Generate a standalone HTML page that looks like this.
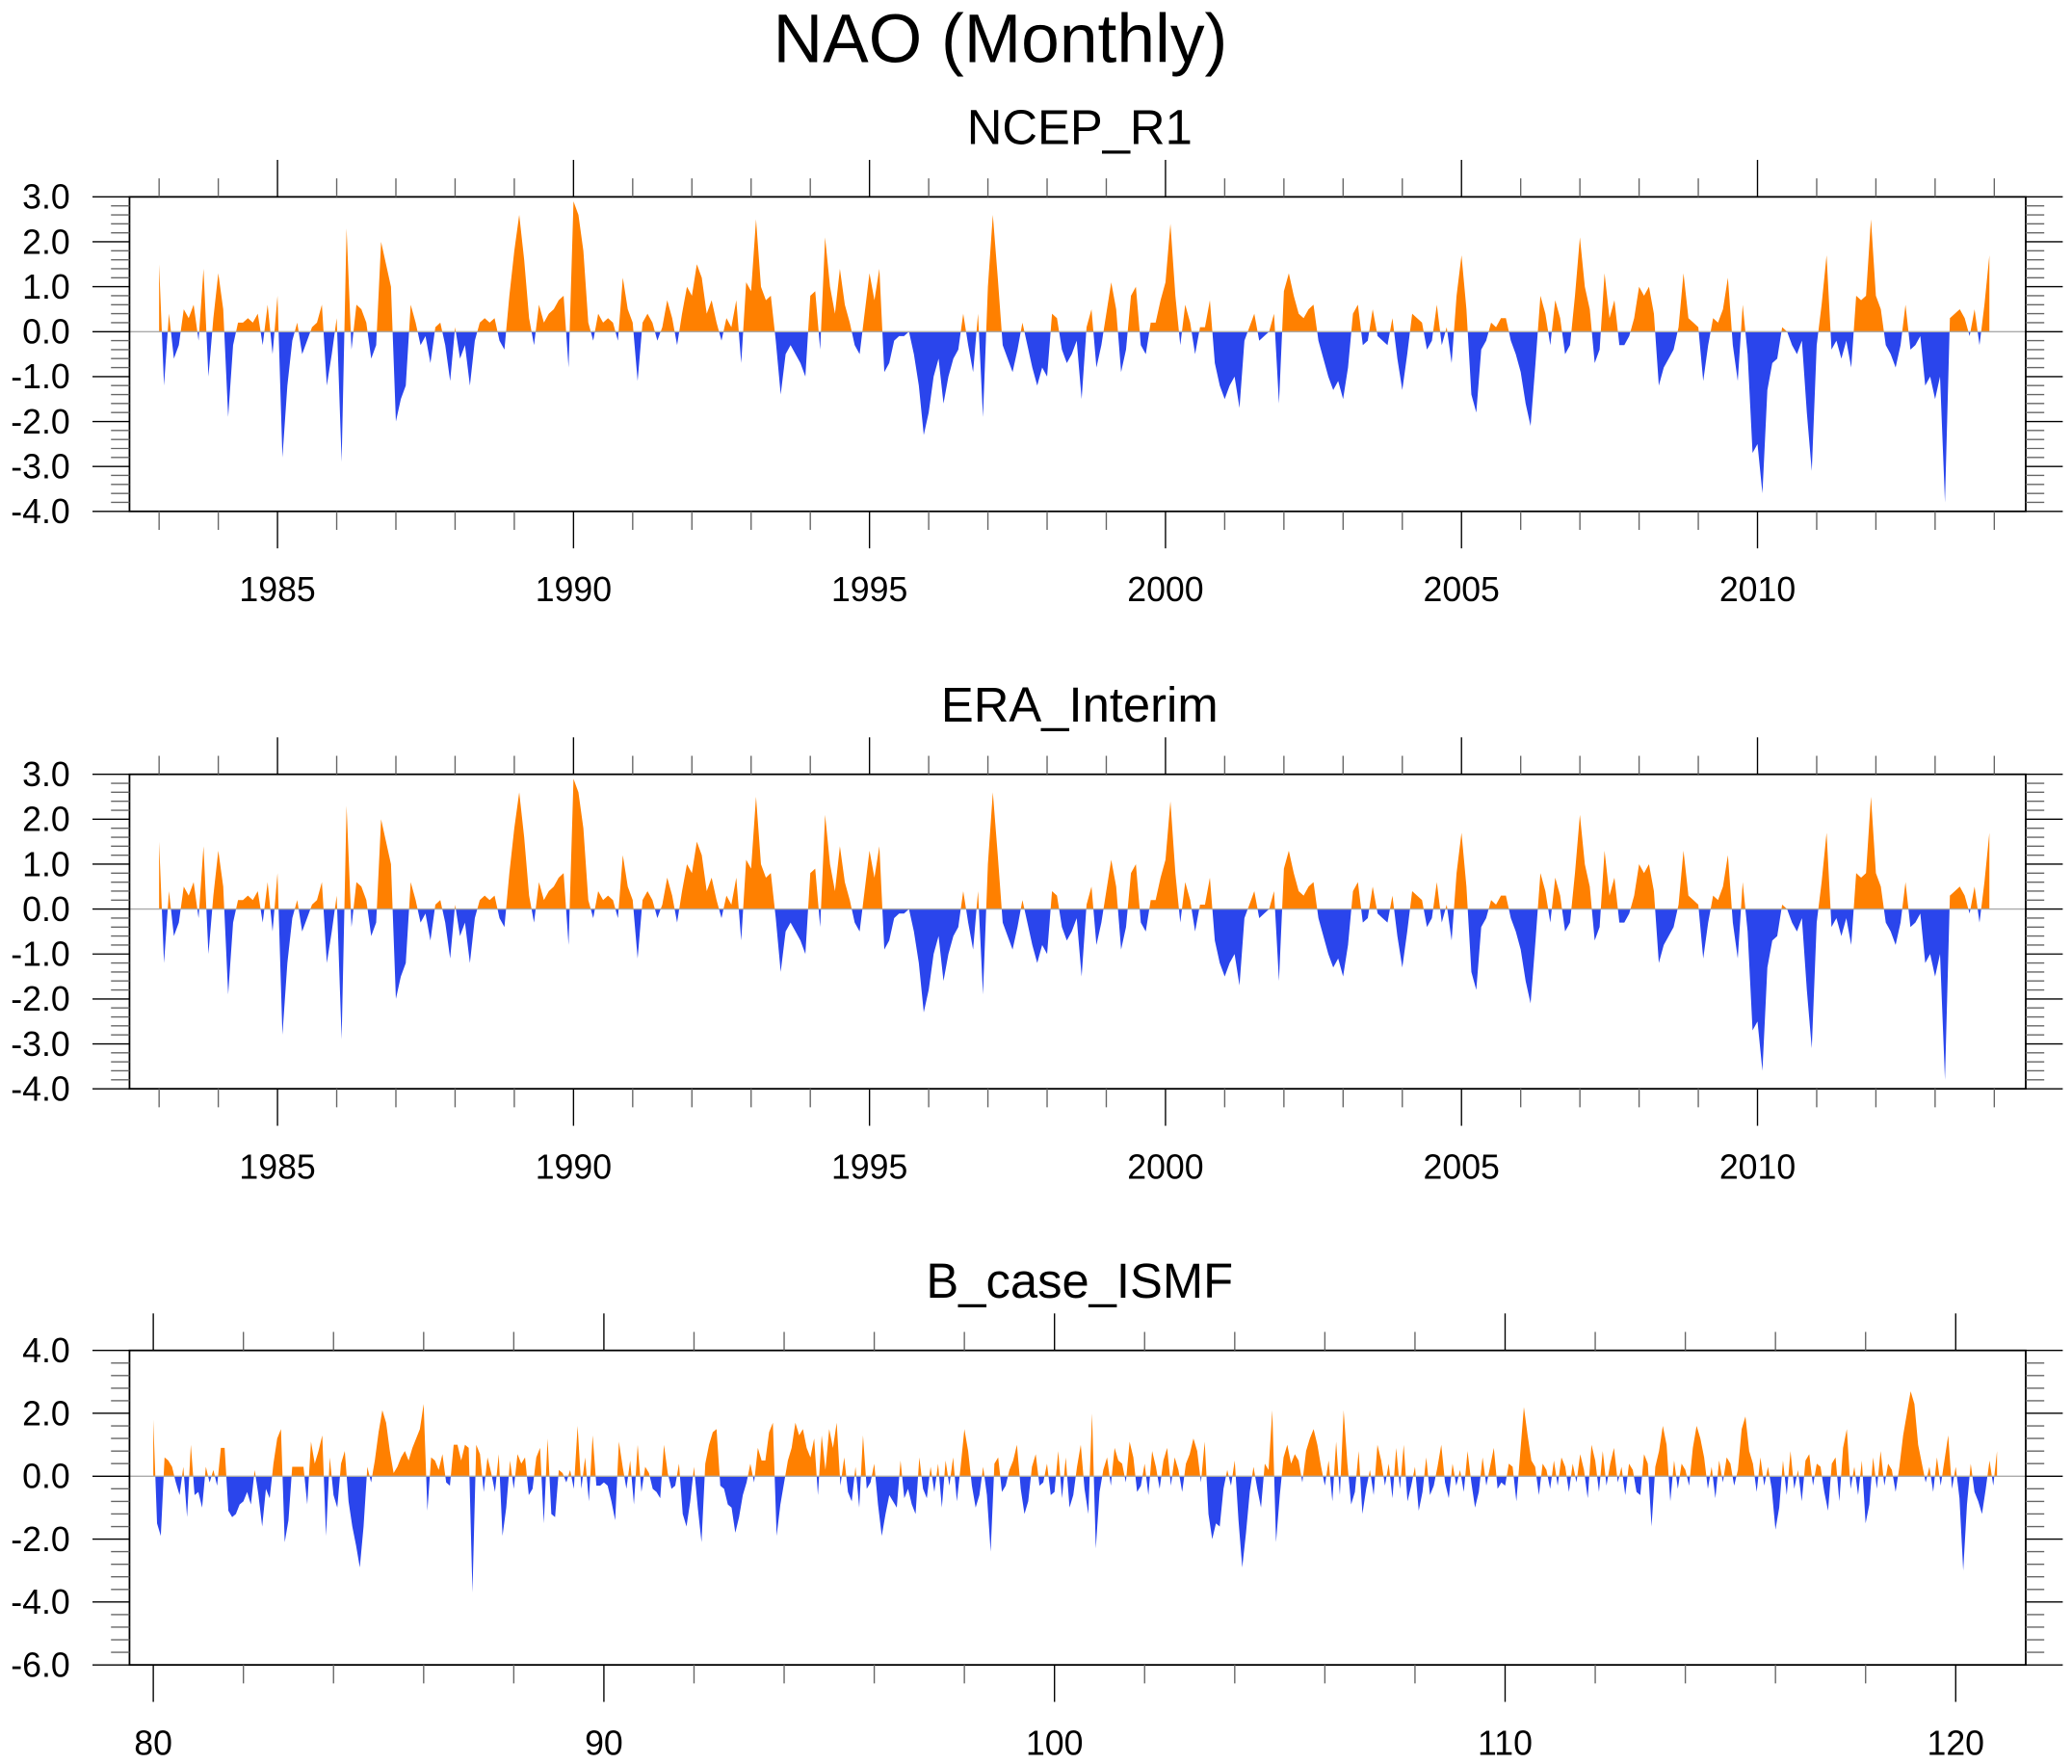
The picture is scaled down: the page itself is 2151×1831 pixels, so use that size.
<!DOCTYPE html>
<html><head><meta charset="utf-8"><style>
html,body{margin:0;padding:0;background:#fff;}
svg{display:block;}
text{font-family:"Liberation Sans",sans-serif;fill:#000;}
</style></head><body>
<svg id="chart" width="2151" height="1831" viewBox="0 0 1568 1335" preserveAspectRatio="none" xmlns="http://www.w3.org/2000/svg">
<text x="757" y="47" font-size="52" text-anchor="middle">NAO (Monthly)</text>
</svg>
<script>
// ---- data ----
const ncepValues = [
1.5,-1.2,0.4,-0.6,-0.3,0.5,0.3,0.6,-0.2,1.4,-1.0,0.3,
1.3,0.5,-1.9,-0.3,0.2,0.2,0.3,0.2,0.4,-0.3,0.6,-0.5,
0.8,-2.8,-1.2,-0.2,0.2,-0.5,-0.2,0.1,0.2,0.6,-1.2,-0.5,
0.3,-2.9,2.3,-0.4,0.6,0.5,0.2,-0.6,-0.3,2.0,1.5,1.0,
-2.0,-1.5,-1.2,0.6,0.2,-0.3,-0.1,-0.7,0.1,0.2,-0.3,-1.1,
0.1,-0.6,-0.3,-1.2,-0.2,0.2,0.3,0.2,0.3,-0.2,-0.4,0.8,
1.8,2.6,1.6,0.3,-0.3,0.6,0.2,0.4,0.5,0.7,0.8,-0.8,
2.9,2.6,1.8,0.2,-0.2,0.4,0.2,0.3,0.2,-0.2,1.2,0.5,
0.2,-1.1,0.2,0.4,0.2,-0.2,0.1,0.7,0.3,-0.3,0.4,1.0,
0.8,1.5,1.2,0.4,0.7,0.2,-0.2,0.3,0.1,0.7,-0.7,1.1,
0.9,2.5,1.0,0.7,0.8,-0.2,-1.4,-0.5,-0.3,-0.5,-0.7,-1.0,
0.8,0.9,-0.4,2.1,1.0,0.4,1.4,0.6,0.2,-0.3,-0.5,0.4,
1.3,0.7,1.4,-0.9,-0.7,-0.2,-0.1,-0.1,0.0,-0.5,-1.2,-2.3,
-1.8,-1.0,-0.6,-1.6,-1.0,-0.6,-0.4,0.4,-0.3,-0.9,0.4,-1.9,
1.0,2.6,1.2,-0.3,-0.6,-0.9,-0.4,0.2,-0.3,-0.8,-1.2,-0.8,
-1.0,0.4,0.3,-0.4,-0.7,-0.5,-0.2,-1.5,0.1,0.5,-0.8,-0.3,
0.4,1.1,0.5,-0.9,-0.4,0.8,1.0,-0.3,-0.5,0.2,0.2,0.7,
1.1,2.4,0.8,-0.3,0.6,0.2,-0.5,0.1,0.1,0.7,-0.7,-1.2,
-1.5,-1.2,-1.0,-1.7,-0.2,0.1,0.4,-0.2,-0.1,0.0,0.4,-1.6,
0.9,1.3,0.8,0.4,0.3,0.5,0.6,-0.2,-0.6,-1.0,-1.3,-1.1,
-1.5,-0.8,0.4,0.6,-0.3,-0.2,0.5,-0.1,-0.2,-0.3,0.3,-0.6,
-1.3,-0.5,0.4,0.3,0.2,-0.4,-0.2,0.6,-0.3,0.1,-0.7,0.8,
1.7,0.5,-1.4,-1.8,-0.4,-0.2,0.2,0.1,0.3,0.3,-0.2,-0.5,
-0.9,-1.6,-2.1,-0.7,0.8,0.4,-0.3,0.7,0.3,-0.5,-0.3,0.8,
2.1,1.0,0.5,-0.7,-0.4,1.3,0.3,0.7,-0.3,-0.3,-0.1,0.3,
1.0,0.8,1.0,0.4,-1.2,-0.8,-0.6,-0.4,0.1,1.3,0.3,0.2,
0.1,-1.1,-0.3,0.3,0.2,0.5,1.2,-0.3,-1.1,0.6,-0.5,-2.7,
-2.5,-3.6,-1.3,-0.7,-0.6,0.1,0.0,-0.3,-0.5,-0.2,-1.8,-3.1,
-0.3,0.6,1.7,-0.4,-0.2,-0.6,-0.2,-0.8,0.8,0.7,0.8,2.5,
0.8,0.5,-0.3,-0.5,-0.8,-0.3,0.6,-0.4,-0.3,-0.1,-1.2,-1.0,
-1.5,-1.0,-3.8,0.3,0.4,0.5,0.3,-0.1,0.5,-0.3,0.6,1.7];
const eraValues = ncepValues.map(v => v); // ERA_Interim nearly identical to NCEP_R1
const bcaseValues = [
1.8,-1.5,-1.9,0.6,0.5,0.3,-0.2,-0.6,0.3,-1.3,1.0,-0.6,
-0.5,-1.0,0.3,-0.2,0.2,-0.3,0.9,0.9,-1.1,-1.3,-1.2,-0.9,
-0.8,-0.5,-0.9,0.2,-0.6,-1.6,-0.4,-0.7,0.4,1.2,1.5,-2.1,
-1.4,0.3,0.3,0.3,0.3,-0.9,1.1,0.4,0.8,1.3,-1.9,0.6,
-0.6,-1.0,0.4,0.8,-0.8,-1.6,-2.2,-2.9,-1.6,0.3,-0.2,0.5,
1.4,2.1,1.7,0.8,0.1,0.3,0.6,0.8,0.5,0.9,1.2,1.5,
2.3,-1.1,0.6,0.5,0.2,0.7,-0.2,-0.3,1.0,1.0,0.5,1.0,
0.9,-3.7,1.0,0.7,-0.5,0.6,0.1,-0.5,0.7,-1.9,-1.0,0.5,
-0.4,0.7,0.4,0.6,-0.6,-0.4,0.6,0.9,-1.5,1.2,-1.2,-1.3,
0.2,0.1,-0.2,0.2,-0.4,1.6,-0.4,0.6,-0.8,1.3,-0.3,-0.3,
-0.2,-0.3,-0.8,-1.4,1.1,0.3,-0.4,0.5,-0.9,1.0,-0.5,0.3,
0.1,-0.4,-0.5,-0.7,1.0,0.1,-0.4,-0.3,0.4,-1.2,-1.6,-0.8,
0.3,-1.0,-2.1,0.4,1.0,1.4,1.5,-0.3,-0.4,-0.9,-1.0,-1.8,
-1.3,-0.6,-0.2,0.4,-0.2,0.9,0.5,0.5,1.4,1.7,-1.9,-0.9,
-0.2,0.5,0.9,1.7,1.3,1.5,0.9,0.6,1.2,-0.6,1.3,0.2,
1.5,0.9,1.7,-0.3,0.6,-0.5,-0.8,0.3,-1.0,1.3,-0.4,-0.2,
0.4,-0.9,-1.9,-1.2,-0.6,-0.8,-1.0,0.5,-0.7,-0.4,-0.9,-1.2,
0.6,-0.4,-0.7,0.3,-0.5,0.4,-1.0,0.5,-0.3,0.6,-0.8,0.3,
1.5,0.8,-0.3,-1.0,-0.6,0.3,-0.6,-2.4,0.4,0.6,-0.5,-0.3,
0.2,0.5,1.0,-0.4,-1.2,-0.8,0.3,0.7,-0.3,-0.2,0.4,-0.6,
-0.5,0.8,-0.7,0.6,-1.0,-0.6,0.3,1.0,-0.4,-1.2,2.0,-2.3,
-0.5,0.2,0.6,-0.3,0.9,0.5,0.4,-0.2,1.1,0.6,-0.5,-0.3,
0.4,-0.6,0.8,0.3,-0.4,0.5,0.9,-0.3,0.6,0.2,-0.5,0.4,
0.7,1.2,0.8,-0.2,1.1,-1.2,-2.0,-1.5,-1.6,-0.4,0.2,-0.3,
0.5,-1.4,-2.9,-1.8,-0.5,0.3,-0.4,-1.0,0.4,0.2,2.1,-2.1,
-0.6,0.6,1.0,0.4,0.7,0.5,-0.2,0.8,1.2,1.5,1.0,0.3,
-0.3,0.5,-0.8,1.1,-0.6,2.1,0.4,-0.9,-0.5,0.8,-1.2,-0.4,
0.2,-0.6,1.0,0.5,-0.3,0.4,-0.7,0.9,-0.4,1.0,-0.8,-0.3,
0.3,-1.1,-0.5,0.6,-0.6,-0.3,0.3,1.0,-0.2,-0.7,0.4,-0.3,
0.2,-0.5,0.8,-0.2,-1.0,-0.5,0.6,-0.3,0.3,0.9,-0.4,-0.2,
-0.3,0.4,0.3,-0.8,0.7,2.2,1.3,0.5,0.3,-0.6,0.4,0.2,
-0.4,0.5,-0.3,0.6,0.3,-0.5,0.4,-0.2,0.7,0.2,-0.7,1.0,
0.5,-0.5,0.8,-0.3,0.4,0.9,-0.2,0.3,-0.6,0.4,0.2,-0.5,
-0.6,0.7,0.4,-1.6,0.3,0.8,1.6,1.0,-0.8,0.5,-0.4,0.4,
0.2,-0.3,0.9,1.6,1.2,0.6,-0.4,0.3,-0.7,0.5,-0.2,0.6,
0.4,-0.3,0.2,1.5,1.9,0.8,0.4,-0.5,0.6,-0.3,0.3,-0.4,
-1.7,-1.0,0.5,-0.6,0.8,-0.4,0.2,-0.8,0.5,0.7,-0.3,0.4,
0.3,-0.5,-1.1,0.4,0.6,-0.8,0.9,1.5,-0.4,0.3,-0.6,0.5,
-1.5,-0.9,0.6,-0.4,0.8,-0.3,0.4,0.2,-0.5,0.3,1.3,2.0,
2.7,2.3,1.0,0.4,-0.2,0.3,-0.5,0.6,-0.3,0.5,1.3,-0.4,
0.3,-0.7,-3.0,-0.9,0.4,-0.5,-0.8,-1.2,-0.4,0.5,-0.3,0.8];
const yTicks12 = ["3.0","2.0","1.0","0.0","-1.0","-2.0","-3.0","-4.0"];
const yTicks3 = ["4.0","2.0","0.0","-2.0","-4.0","-6.0"];
const xLabels12 = [1985,1990,1995,2000,2005,2010];
const xLabels3 = [80,90,100,110,120];
const panelTitles = ["NCEP_R1","ERA_Interim","B_case_ISMF"];

const NS="http://www.w3.org/2000/svg";
const svg=document.getElementById('chart');
function mk(tag,attrs,parent){const e=document.createElementNS(NS,tag);for(const k in attrs)e.setAttribute(k,attrs[k]);(parent||svg).appendChild(e);return e;}

const L=98,R=1533;
function panel(idx,top,bot,ymax,ymin,yLabels,yMinorStep,x0,xPerUnit,xMajor,xMinor,xFirst,xLabels,values,t0,labelY){
  const g=mk('g',{});
  
  
  const ys=v=>top+(ymax-v)/(ymax-ymin)*(bot-top);
  const xs=t=>x0+(t-xFirst)*xPerUnit;
  const t=mk('text',{x:817,y:top-40,'font-size':37,'text-anchor':'middle'},g);
  t.textContent=panelTitles[idx];
  
  
  const y0=ys(0);
  let d='M'+xs(t0).toFixed(2)+','+y0;
  values.forEach((v,i)=>{d+=' L'+xs(t0+i/12).toFixed(2)+','+ys(v).toFixed(2);});
  d+=' L'+xs(t0+(values.length-1)/12).toFixed(2)+','+y0+' Z';
  const cid='c'+idx;
  const defs=mk('defs',{},g);
  const c1=mk('clipPath',{id:cid+'a'},defs);mk('rect',{x:L,y:top,width:R-L,height:y0-top},c1);
  const c2=mk('clipPath',{id:cid+'b'},defs);mk('rect',{x:L,y:y0,width:R-L,height:bot-y0},c2);
  const p1=mk('path',{d:d,fill:'#ff8000','clip-path':'url(#'+cid+'a)'},g);
  
  
  const p2=mk('path',{d:d,fill:'#2a45ec','clip-path':'url(#'+cid+'b)'},g);
  
  
  const zl=mk('line',{x1:L,x2:R,y1:y0,y2:y0,stroke:'#aaa','stroke-width':1},g);
  
  
  const fr=mk('rect',{x:L,y:top,width:R-L,height:bot-top,fill:'none',stroke:'#000','stroke-width':1.3},g);
  
  
  const step=(ymax-ymin)/(yLabels.length-1);
  for(let v=ymin;v<=ymax+1e-6;v+=yMinorStep){
    const r=(v-ymin)/step;
    const major=Math.abs(r-Math.round(r))<1e-6;
    const len=major?28:14, y=ys(v);
    mk('line',{x1:L-len,x2:L,y1:y,y2:y,stroke:major?'#000':'#666','stroke-width':1},g);
    mk('line',{x1:R,x2:R+len,y1:y,y2:y,stroke:major?'#000':'#666','stroke-width':1},g);
  }
  yLabels.forEach((s,i)=>{
    const tt=mk('text',{x:53,y:ys(ymax-i*step)+9,'font-size':26,'text-anchor':'end'},g);
    tt.textContent=s;
    
    
  });
  for(let v=xMinor[0];v<=xMinor[1]+1e-6;v+=xMinor[2]){
    const major=Math.abs(v%xMajor)<1e-6;
    const len=major?28:14,x=xs(v);
    mk('line',{x1:x,x2:x,y1:top-len,y2:top,stroke:major?'#000':'#666','stroke-width':1},g);
    mk('line',{x1:x,x2:x,y1:bot,y2:bot+len,stroke:major?'#000':'#666','stroke-width':1},g);
  }
  xLabels.forEach(v=>{
    const tt=mk('text',{x:xs(v),y:labelY,'font-size':26,'text-anchor':'middle'},g);
    tt.textContent=String(v);
    
    
  });
}
panel(0,149,387,3,-4,yTicks12,0.2,120.4,44.8,5,[1983,2014,1],1983,xLabels12,ncepValues,1983,455);
panel(1,586,824,3,-4,yTicks12,0.2,120.4,44.8,5,[1983,2014,1],1983,xLabels12,eraValues,1983,892);
panel(2,1022,1260,4,-6,yTicks3,0.4,116,34.1,10,[80,121,2],80,xLabels3,bcaseValues,80,1328);
</script>
</body></html>
